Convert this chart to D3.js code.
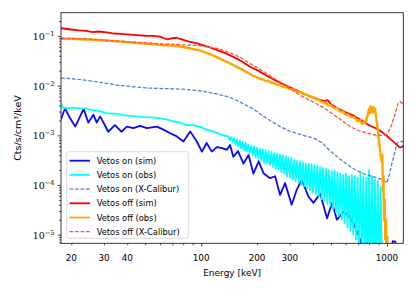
<!DOCTYPE html>
<html>
<head>
<meta charset="utf-8">
<script src="https://cdn.jsdelivr.net/npm/d3@7"></script>
<style>
  body { margin: 0; background: #fff; }
  svg { display: block; }
</style>
</head>
<body>
<svg id="chart" width="415" height="293"></svg>
<script>
// [energy keV, Cts/s/cm3/keV]
const vetosOnSim = [[17.6,0.0021],[18.5,0.0035],[19.7,0.0022],[21.0,0.0015],[23.3,0.0034],[24.7,0.0018],[26.3,0.0026],[27.4,0.0018],[28.6,0.0024],[31.6,0.00118],[34.3,0.0016],[37.3,0.00118],[39.8,0.0015],[43.2,0.0014],[46.9,0.00155],[51,0.0014],[57.7,0.0015],[62.7,0.0013],[68.1,0.0011],[74,0.00095],[80.3,0.00075],[87.3,0.0012],[94.8,0.00075],[100.9,0.00047],[107,0.0007],[114,0.00047],[121.5,0.00058],[130,0.00055],[137.5,0.00051],[143,0.00064],[149,0.00037],[158,0.00048],[169,0.00027],[180,0.0004],[191,0.00017],[204,0.0003],[217,0.00017],[235,0.000137],[250,0.00015],[266,0.000063],[283,0.000109],[307,0.00004],[327,0.00008],[348,0.000127],[378,0.0000585],[402,0.0000436],[437,0.000067],[476,0.0000214],[507,0.0000436],[538,0.00002],[584,0.0000289],[622,0.000024],[660,0.0000172],[703,0.0000098],[745,0.000005],[792,0.0000075],[844,0.000003],[960,0.000002],[1046,0.000003],[1075,0.0000074],[1110,0.0000072],[1132,0.000003]];

const vetosOnObs = [[17.6,0.0044],[18.0,0.0036],[19,0.0035],[20,0.0036],[22,0.0035],[24,0.0035],[26,0.0032],[28,0.0031],[31,0.0028],[35,0.0027],[40,0.0025],[45,0.0024],[51,0.0023],[55,0.0023],[60,0.0022],[65,0.0021],[71,0.0019],[77,0.0018],[84,0.0016],[90,0.0016],[99,0.00148],[107,0.0013],[116,0.0012],[125,0.00108],[133,0.00098],
  [140,0.00095],[142.5,0.0008],[145,0.00092],[147.6,0.00072],[150.3,0.00088],[153,0.00065],[155.7,0.00082],[158.5,0.0006],[161.4,0.00078],[164.3,0.00055],[167.2,0.00074],[170.2,0.0005],[173.3,0.0007],[176.4,0.00048],[179.6,0.00066],[182.8,0.00044],[186.1,0.00062],[189.4,0.0004],[192.8,0.0006],[196.3,0.00037],[199.8,0.00056],[203.4,0.00034],[207,0.00054],[210.8,0.00031],[214.6,0.00052],[218.4,0.00028],[222.3,0.0005],[226.3,0.00027],[230.4,0.00048],[234.5,0.00025],[238.8,0.00046],[243,0.00023],[247.4,0.00044],[251.8,0.00021],[256.4,0.00043],[261,0.0002],[265.7,0.00041],[270.4,0.00018],[275.3,0.0004],[280.2,0.00017],[285.3,0.00038],[290.4,0.00015],[295.6,0.00036],[300.9,0.00014],[306.3,0.00035],[311.8,0.00013],[317.4,0.00032],[323.1,0.00012],[328.9,0.00031],[334.8,0.00011],[340.9,0.0003],[347,0.0001],[353.2,0.00028],[359.6,0.000095],[366,0.00027],[372.6,0.000085],[379.3,0.00027],[386.1,0.00008],[393,0.00026],[400.1,0.00007],[407.3,0.00025],[414.6,0.000065],[422.1,0.00024],[429.7,0.00006],[437.4,0.00023],[445.3,0.000052],[453.3,0.00022],[461.4,0.000048],[469.7,0.00021],[478.2,0.000042],[486.8,0.0002],[495.5,0.000038],[504.4,0.00019],[513.5,0.000033],[522.7,0.00019],[532.1,0.000028],[541.7,0.00018],[551.4,0.000024],[561.3,0.00017],[571.4,0.00002],[581.7,0.00016],[592.2,0.000017],[602.8,0.00017],[613.7,0.000014],[624.7,0.00015],[635.9,0.000012],[647.4,0.00016],[659,0.00001],[670.9,0.00015],[683,0.000008],[695.3,0.00014],[707.8,0.000006],[720.5,0.00018],[733.5,0.000004],[746.7,0.00015],[760.1,0.000003],[773.8,0.00014],[787.7,0.000002],[801.9,0.0002],[816.3,0.000002],[831,0.00015],[845.9,0.000002],[861.1,0.00013],[876.6,0.000002],[892.4,0.00012],[908.4,0.000002],[924.8,0.00009],[941.4,0.000002]];

const vetosOnXCalibur = [[17.6,0.0142],[20,0.0138],[23.3,0.013],[28,0.0118],[35,0.0103],[43,0.0095],[53,0.0089],[65,0.0087],[80,0.0085],[100,0.0078],[122,0.0068],[143,0.0058],[165,0.0045],[183,0.0037],[200,0.003],[217,0.0024],[240,0.0019],[266,0.0015],[300,0.00122],[327,0.0011],[360,0.00098],[402,0.00088],[450,0.0007],[490,0.0005],[550,0.00035],[609,0.00026],[680,0.0002],[745,0.00017],[830,0.00015],[893,0.000137],[960,0.000125],[1000,0.00011],[1030,0.00016],[1060,0.00026],[1088,0.00037],[1132,0.00069],[1180,0.00075],[1225,0.00075]];

const vetosOffSim = [[17.6,0.143],[19,0.138],[20,0.135],[22,0.13],[24,0.127],[26,0.12],[28,0.123],[31,0.118],[34,0.112],[37,0.11],[40,0.108],[45,0.104],[50,0.101],[55,0.1],[60,0.097],[63,0.09],[66,0.085],[70,0.09],[74,0.092],[77,0.087],[85,0.078],[95,0.071],[100,0.067],[110,0.06],[122,0.052],[135,0.045],[149,0.038],[165,0.031],[183,0.024],[200,0.0205],[226,0.0158],[250,0.0128],[278,0.0106],[300,0.0092],[341,0.0074],[380,0.0062],[420,0.0054],[460,0.0049],[480,0.0051],[500,0.0042],[540,0.0035],[600,0.0029],[660,0.0025],[745,0.0019],[800,0.0016],[864,0.0014],[930,0.0012],[1000,0.00097],[1060,0.0008],[1132,0.00064],[1170,0.00057],[1200,0.00058],[1225,0.00062]];

const vetosOffObs = [[17.6,0.088],[19,0.088],[21,0.087],[23,0.086],[25,0.085],[28,0.083],[31,0.081],[35,0.078],[40,0.075],[45,0.072],[50,0.07],[55,0.068],[60,0.066],[65,0.065],[70,0.064],[75,0.062],[80,0.06],[90,0.055],[100,0.05],[110,0.044],[122,0.037],[135,0.031],[149,0.026],[158,0.023],[165,0.0215],[174,0.019],[183,0.0172],[192,0.0155],[200,0.0148],[208,0.0136],[215,0.0134],[222,0.0125],[230,0.0124],[238,0.0114],[246,0.0113],[255,0.0104],[265,0.0103],[278,0.0094],[290,0.0092],[300,0.0085],[312,0.0084],[325,0.0076],[341,0.0075],[355,0.0068],[370,0.0066],[385,0.006],[400,0.0059],[415,0.0053],[430,0.0052],[447,0.0046],[465,0.0045],[483,0.004],[500,0.004],[520,0.0035],[540,0.0035],[560,0.003],[580,0.003],[600,0.0026],[620,0.0026],[645,0.0023],[670,0.0023],[695,0.0019],[718,0.002],[735,0.0017],[755,0.0019],[770,0.0018],[781,0.0023],[792,0.0027],[800,0.0034],[808,0.0028],[815,0.0038],[822,0.003],[830,0.0037],[838,0.0029],[846,0.0037],[855,0.003],[864,0.0034],[873,0.0024],[882,0.0018],[893,0.0013],[903,0.0009],[912,0.0006],[920,0.0005],[928,0.00035],[936,0.0003],[944,0.0004],[952,0.00008],[958,0.00015],[964,0.00002],[972,0.00005],[980,0.000008],[988,0.00002],[996,0.000005],[1005,0.000009],[1015,0.000003],[1025,0.000006],[1030,0.000002]];

const vetosOffXCalibur = [[17.6,0.09],[20,0.089],[25,0.086],[30,0.082],[40,0.077],[50,0.073],[60,0.07],[70,0.068],[80,0.066],[90,0.065],[100,0.063],[110,0.06],[122,0.056],[135,0.05],[149,0.043],[165,0.036],[183,0.028],[200,0.023],[226,0.0175],[250,0.0135],[278,0.0105],[300,0.0088],[320,0.0075],[341,0.0064],[380,0.0052],[409,0.0045],[450,0.0037],[490,0.003],[550,0.0022],[634,0.0015],[700,0.00125],[781,0.0011],[880,0.001],[960,0.001],[1000,0.00105],[1046,0.0014],[1104,0.0026],[1150,0.0044],[1180,0.0048],[1225,0.0041]];

const seriesLabels = ["Vetos on (sim)", "Vetos on (obs)", "Vetos on (X-Calibur)", "Vetos off (sim)", "Vetos off (obs)", "Vetos off (X-Calibur)"];
const seriesData = [vetosOnSim, vetosOnObs, vetosOnXCalibur, vetosOffSim, vetosOffObs, vetosOffXCalibur];
const seriesColors = ["#0a0af0", "#00ffff", "#4a86d6", "#ff0000", "#ffa500", "#ff5733"];
const seriesDashed = [false, false, true, false, false, true];
const seriesWidths = [1.8, 1.8, 1.3, 1.8, 2.4, 1.3];

const xTickLabels = [20, 30, 40, 100, 200, 300, 1000];
const xMajor = [100, 1000];
const yTickPowers = [-1, -2, -3, -4, -5];

const energyDomain = [17.6, 1225];
const rateDomain = [6.7e-6, 0.294];

const svg = d3.select("#chart");
const plot = { left: 61, right: 403.3, top: 12.7, bottom: 243.3 };

const x = d3.scaleLog().domain(energyDomain).range([plot.left, plot.right]);
const y = d3.scaleLog().domain(rateDomain).range([plot.bottom, plot.top]);

svg.append("defs").append("clipPath").attr("id", "plotclip")
    .append("rect")
    .attr("x", plot.left).attr("y", plot.top)
    .attr("width", plot.right - plot.left).attr("height", plot.bottom - plot.top);

// data lines
const line = d3.line().x(d => x(d[0])).y(d => y(d[1]));
const lines = svg.append("g").attr("clip-path", "url(#plotclip)");
seriesData.forEach((data, i) => {
    lines.append("path")
        .attr("d", line(data))
        .attr("fill", "none")
        .attr("stroke", seriesColors[i])
        .attr("stroke-width", seriesWidths[i])
        .attr("stroke-dasharray", seriesDashed[i] ? "3.8,1.7" : null)
        .attr("stroke-linejoin", "round");
});

// axes: minor ticks, then major ticks
const xMinor = x.ticks().filter(t => !xMajor.includes(t));
const yAll = y.ticks();
const yMinor = yAll.filter(t => !yTickPowers.some(p => Math.abs(Math.log10(t) - p) < 1e-6));
const yMajor = yTickPowers.map(p => Math.pow(10, p));

function tickAxis(axis, values, size, transform) {
    const g = svg.append("g")
        .attr("transform", transform)
        .call(axis.tickValues(values).tickSize(size).tickFormat(""));
    g.select(".domain").remove();
    g.selectAll(".tick line").attr("stroke", "#222").attr("stroke-width", 0.8);
}
tickAxis(d3.axisBottom(x), xMinor, 2, `translate(0,${plot.bottom})`);
tickAxis(d3.axisBottom(x), xMajor, 3.3, `translate(0,${plot.bottom})`);
tickAxis(d3.axisLeft(y), yMinor, 2, `translate(${plot.left},0)`);
tickAxis(d3.axisLeft(y), yMajor, 3.3, `translate(${plot.left},0)`);

// frame
svg.append("rect")
    .attr("x", plot.left).attr("y", plot.top)
    .attr("width", plot.right - plot.left).attr("height", plot.bottom - plot.top)
    .attr("fill", "none").attr("stroke", "#222").attr("stroke-width", 0.9);

// tick labels
svg.append("g").selectAll("text")
    .data(xTickLabels)
    .join("text")
    .attr("x", d => x(d))
    .attr("y", 260.7)
    .attr("text-anchor", "middle")
    .attr("font-family", "DejaVu Sans")
    .attr("font-size", "8.8px")
    .text(d => d);

const yLabels = svg.append("g").selectAll("text")
    .data(yTickPowers)
    .join("text")
    .attr("x", 54.5)
    .attr("y", d => y(Math.pow(10, d)) + 4)
    .attr("text-anchor", "end")
    .attr("font-family", "DejaVu Serif")
    .attr("font-size", "9.5px");
yLabels.append("tspan").text("10");
yLabels.append("tspan").attr("dy", -4).attr("font-size", "6.6px").text(d => "\u2212" + Math.abs(d));

// axis titles
svg.append("text")
    .attr("x", (plot.left + plot.right) / 2)
    .attr("y", 276)
    .attr("text-anchor", "middle")
    .attr("font-family", "DejaVu Sans")
    .attr("font-size", "9px")
    .text("Energy [keV]");

svg.append("text")
    .attr("transform", `translate(21,${(plot.top + plot.bottom) / 2}) rotate(-90)`)
    .attr("text-anchor", "middle")
    .attr("font-family", "DejaVu Sans")
    .attr("font-size", "9.5px")
    .text("Cts/s/cm\u00b3/keV");

// legend
const legend = svg.append("g");
legend.append("rect")
    .attr("x", 66.7).attr("y", 151.7)
    .attr("width", 121.6).attr("height", 86.6)
    .attr("rx", 2)
    .attr("fill", "#fff").attr("fill-opacity", 0.8)
    .attr("stroke", "#d0d0d0").attr("stroke-width", 0.8);

seriesLabels.forEach((label, i) => {
    const ly = 160.7 + i * 14.2;
    legend.append("line")
        .attr("x1", 69.5).attr("x2", 90).attr("y1", ly).attr("y2", ly)
        .attr("stroke", seriesColors[i])
        .attr("stroke-width", seriesDashed[i] ? 1.3 : 1.8)
        .attr("stroke-dasharray", seriesDashed[i] ? "3.8,1.7" : null);
    legend.append("text")
        .attr("x", 96.7).attr("y", ly + 3)
        .attr("font-family", "DejaVu Sans")
        .attr("font-size", "8.3px")
        .text(label);
});
</script>
</body>
</html>
